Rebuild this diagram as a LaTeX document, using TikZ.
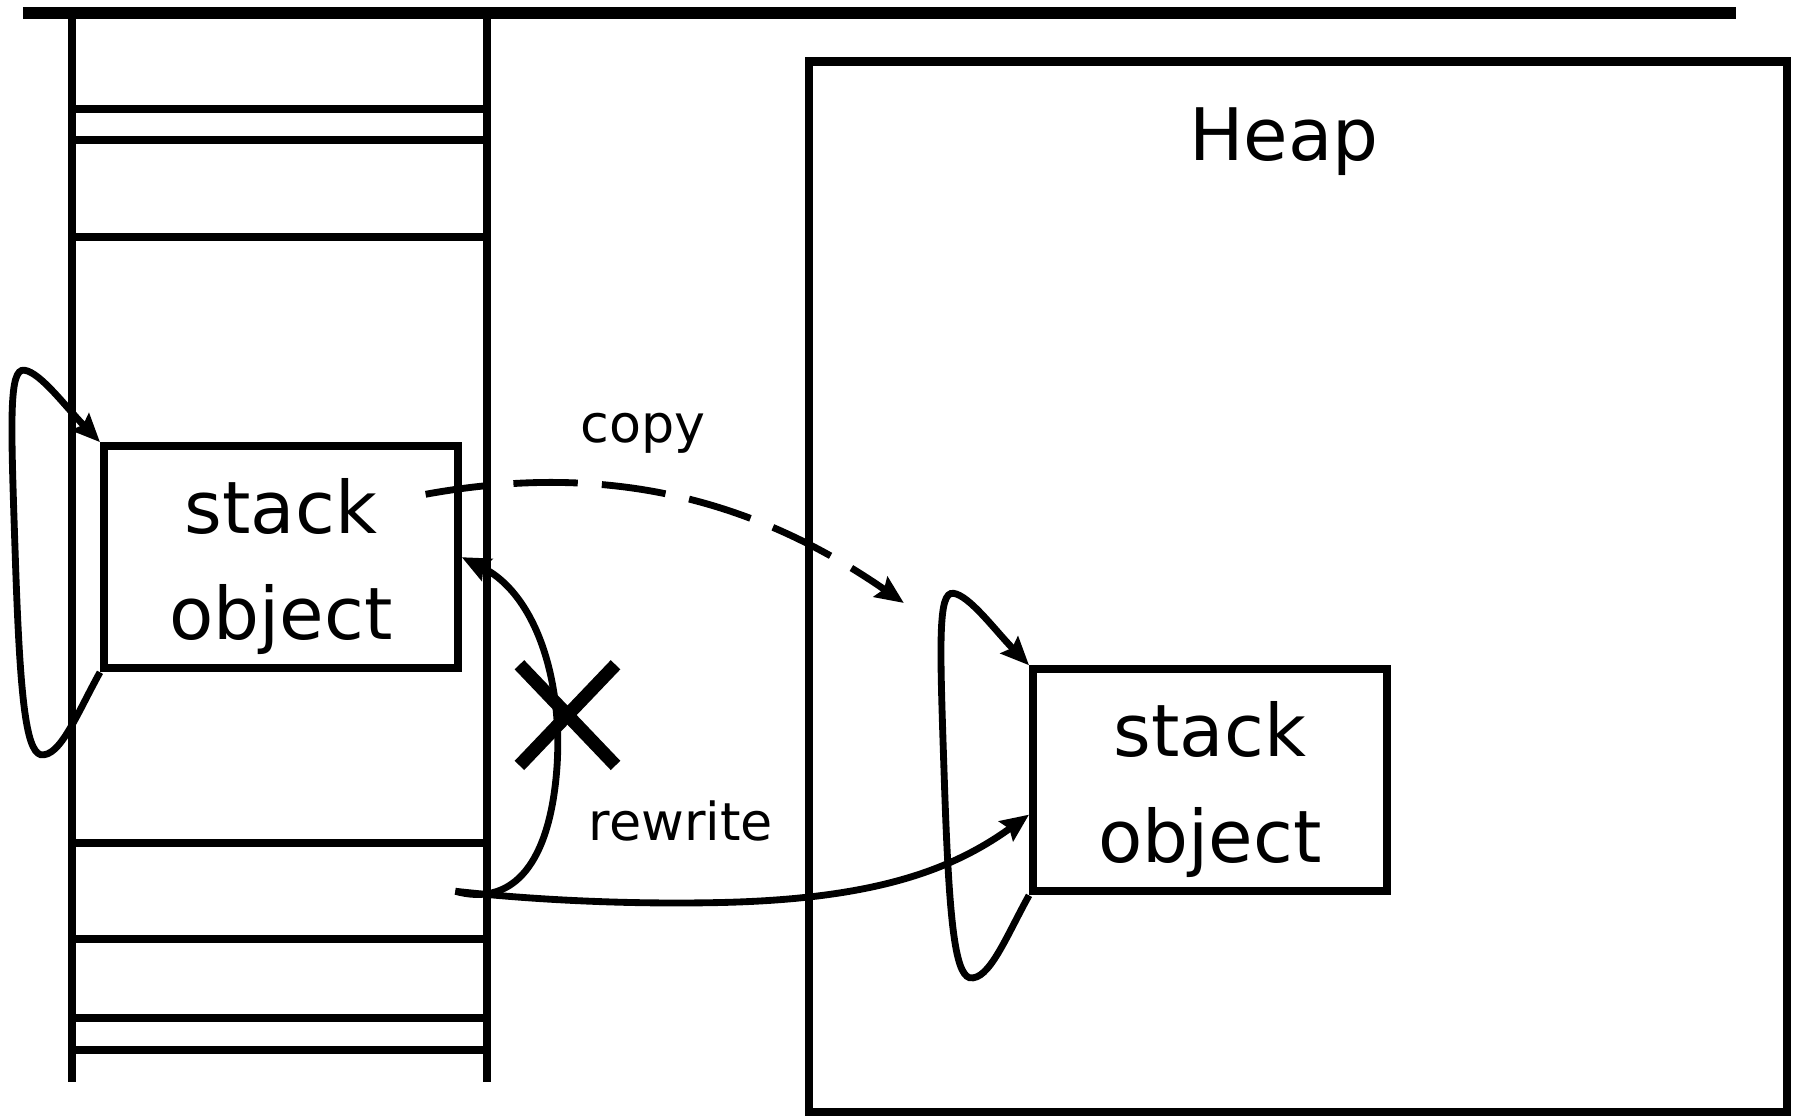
\documentclass[tikz,border=0pt]{standalone}
\usepackage{fontspec}
\setmainfont{DejaVu Sans}
\usetikzlibrary{arrows.meta,calc}
\begin{document}
\begin{tikzpicture}[x=0.01cm,y=-0.01cm,
  frame/.style={line width=2pt},
  objbox/.style={draw,line width=2pt,minimum width=3.09cm,minimum height=1.94cm,
    inner sep=0pt,align=center,font=\fontsize{18}{26.5}\selectfont},
  link/.style={line width=1.7pt,-{Stealth[length=7pt,width=6pt,inset=1pt]}},
  lbl/.style={font=\fontsize{13}{15}\selectfont,anchor=base},
]
\useasboundingbox (0,0) rectangle (1568,975);

% memory line on top
\draw[line width=3pt] (20,11) -- (1517,11);

% the stack: two rails and its frame separators
\draw[frame] (63,16) -- (63,946);
\draw[frame] (426,16) -- (426,946);
\foreach \yy in {95,122,207,737,821,890,918}
  \draw[frame] (63,\yy) -- (426,\yy);

% the heap region
\node[draw,line width=2pt,minimum width=8.55cm,minimum height=9.18cm,inner sep=0pt]
  (heap) at (1134.5,513) {};
\node[font=\fontsize{18}{20}\selectfont,anchor=base] (heaplabel) at (1122,140) {Heap};

% objects
\node[objbox] (stackL) at (245.5,487) {\rule{0pt}{18.3pt}stack\\object};
\node[objbox] (stackR) at (1057.5,682) {\rule{0pt}{18.3pt}stack\\object};

% self references of each object
\newcommand\objloop[1]{%
  \begin{scope}[shift={(#1.south west)}]
    \draw[link] (#1.south west)
      .. controls (-20,36) and (-35,75) .. (-52,72)
      .. controls (-65,68) and (-70,20) .. (-74,-100)
      .. controls (-78,-220) and (-80,-266) .. (-66,-264)
      .. controls (-52,-262) and (-30,-232) .. (#1.north west);
  \end{scope}}
\objloop{stackL}
\objloop{stackR}

% copy to the heap
\coordinate (cpstart) at (372,432);
\coordinate (cpend) at (790,527);
\draw[link,dash pattern=on 16pt off 6pt] (cpstart)
  .. controls (520,405) and (650,430) .. (cpend);
\node[lbl] (copylabel) at (562,387) {copy};

% rewriting the reference
\coordinate (rw) at (398,779);
\draw[link] (rw) .. controls (480,788) and (560,790) .. (620,789)
  .. controls (760,787) and (830,762) .. ([yshift=-0.3cm]stackR.west);
\draw[link] (rw) .. controls (445,792) and (478,760) .. (486,680)
  .. controls (494,600) and (470,520) .. (stackL.east);
\node[lbl] (rewritelabel) at (595,735) {rewrite};

% the old reference is crossed out
\coordinate (xmark) at (496,625);
\draw[line width=3.3pt] ($(xmark)+(-42,-44)$) -- ($(xmark)+(42,44)$);
\draw[line width=3.3pt] ($(xmark)+(42,-44)$) -- ($(xmark)+(-42,44)$);
\end{tikzpicture}
\end{document}
